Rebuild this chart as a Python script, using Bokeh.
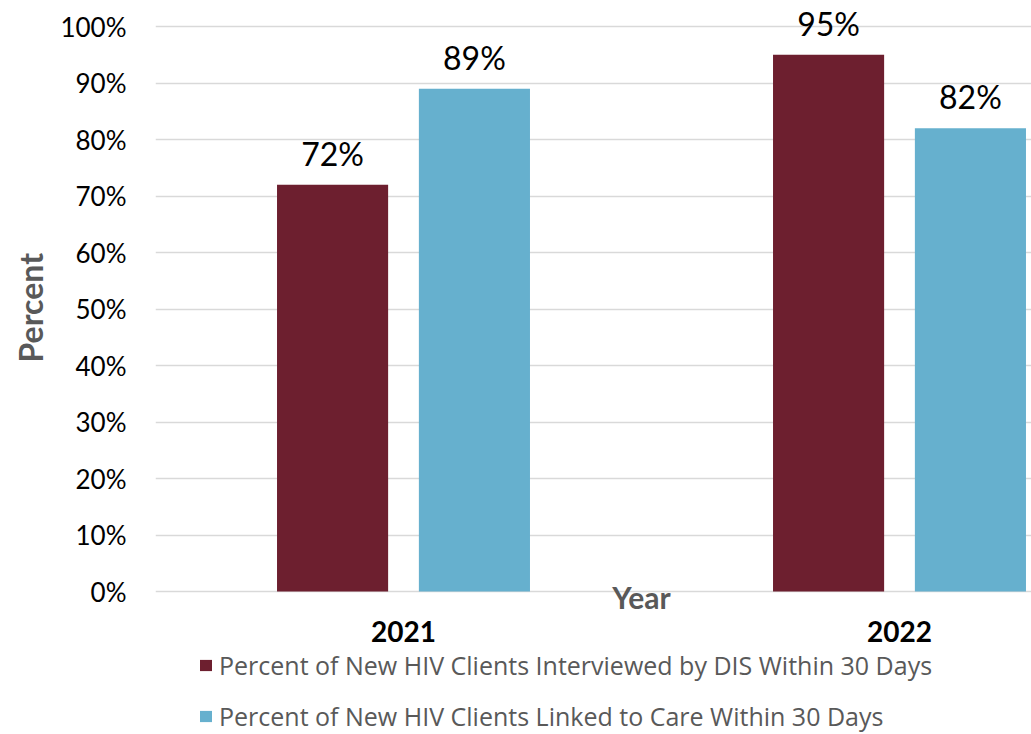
from bokeh.plotting import figure
from bokeh.models import (ColumnDataSource, Range1d, FixedTicker, LabelSet,
                          Label, Legend, LegendItem, Title)
from bokeh.core.properties import value
from bokeh.embed import file_html
from bokeh.resources import INLINE

# ---- data ----
years = ["2021", "2022"]
interviewed = [72, 95]
linked = [89, 82]
series_names = [
    "Percent of New HIV Clients Interviewed by DIS Within 30 Days",
    "Percent of New HIV Clients Linked to Care Within 30 Days",
]
y_ticks = [0, 10, 20, 30, 40, 50, 60, 70, 80, 90, 100]
x_title = "Year"
y_title = "Percent"

# ---- style ----
FONT = "Lato"
LEGEND_FONT = "Open Sans"
COLORS = ["#6D1F2F", "#66B0CE"]
GRID = "#D9D9D9"
GRAY = "#595959"
BAR_W = 0.224
OFFSET = 0.143
PX_PER_UNIT = 5.65      # pixels per percentage point
FRAME_W, FRAME_H = 876, 734
ZERO_PX = 591           # pixel row of the 0% line from the top
CAT_PX = 496            # pixel width of one category

centers = [i + 0.5 for i in range(len(years))]

p = figure(frame_width=FRAME_W, frame_height=FRAME_H, output_backend="svg",
           toolbar_location=None,
           x_range=Range1d(0, FRAME_W / CAT_PX),
           y_range=Range1d(-(FRAME_H - ZERO_PX) / PX_PER_UNIT, ZERO_PX / PX_PER_UNIT),
           min_border_left=155, min_border_right=0, min_border_top=0,
           min_border_bottom=0)
p.outline_line_color = None
p.xgrid.visible = False
p.xaxis.visible = False
p.ygrid.grid_line_color = GRID
p.ygrid.grid_line_width = 1.3

legend_items = []
for vals, name, color, off in zip([interviewed, linked], series_names, COLORS, [-OFFSET, OFFSET]):
    src = ColumnDataSource(dict(
        x=[c + off for c in centers],
        top=vals,
        label=[f"{v}%" for v in vals],
    ))
    r = p.vbar(x="x", top="top", bottom=0, width=BAR_W, source=src,
               fill_color=color, line_color=None)
    legend_items.append(LegendItem(label=name, renderers=[r]))
    labels = LabelSet(x="x", y="top", text="label", source=src,
                      text_align="center", text_baseline="alphabetic",
                      y_offset=19, text_font=value(FONT),
                      text_font_size=value("32px"), text_color="black")
    p.add_layout(labels)

# category labels along the 0% line
cat_src = ColumnDataSource(dict(x=centers, y=[0] * len(years), text=years))
cat_labels = LabelSet(x="x", y="y", text="text", source=cat_src,
                      text_align="center", text_baseline="alphabetic",
                      y_offset=-50, text_font=value(FONT),
                      text_font_size=value("28px"), text_font_style="bold",
                      text_color="black")
p.add_layout(cat_labels)

year_label = Label(x=(641 - 155) / CAT_PX, y=0, y_offset=-5, text=x_title,
                   text_align="center", text_baseline="alphabetic",
                   text_font=FONT, text_font_size="30px",
                   text_font_style="bold", text_color=GRAY)
p.add_layout(year_label)

# y axis
p.yaxis.ticker = FixedTicker(ticks=y_ticks)
p.yaxis.major_label_overrides = {t: f"{t}%" for t in y_ticks}
p.yaxis.axis_line_color = None
p.yaxis.major_tick_line_color = None
p.yaxis.minor_tick_line_color = None
p.yaxis.major_tick_out = 0
p.yaxis.major_label_standoff = 29
p.yaxis.major_label_text_font = FONT
p.yaxis.major_label_text_font_size = "26px"
p.yaxis.major_label_text_color = "black"

y_title_obj = Title(text=y_title, align="left", offset=FRAME_H - 362, standoff=14,
                    vertical_align="middle", text_font=FONT,
                    text_font_size="32px", text_font_style="bold",
                    text_color=GRAY)
p.add_layout(y_title_obj, "left")

legend = Legend(items=legend_items, location=(43, 1), orientation="vertical",
                padding=0, margin=0, spacing=17, glyph_width=15, glyph_height=14,
                label_height=30, label_standoff=6, label_text_font=LEGEND_FONT,
                label_text_font_size="25px", label_text_color=GRAY,
                border_line_color=None, background_fill_alpha=0)
p.add_layout(legend)

open("out.html", "w").write(file_html(p, INLINE))
